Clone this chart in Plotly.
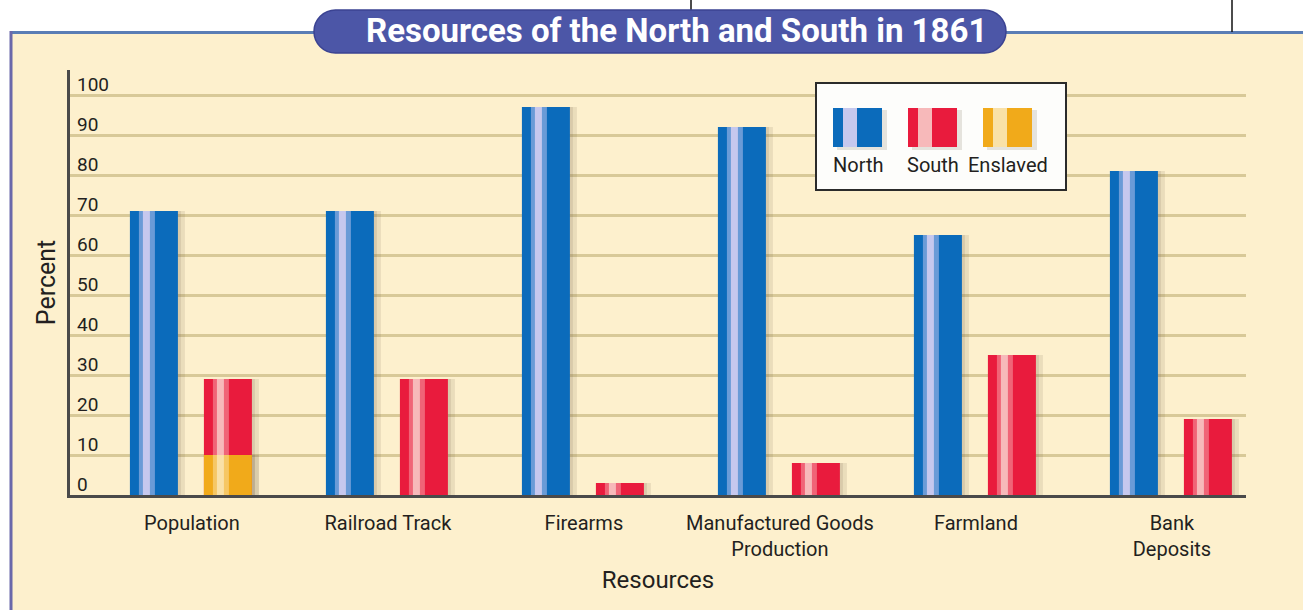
import plotly.graph_objects as go

# ---------------- data ----------------
categories = ["Population", "Railroad Track", "Firearms",
              "Manufactured Goods<br>Production", "Farmland", "Bank<br>Deposits"]
north = [71, 71, 97, 92, 65, 81]
south = [29, 29, 3, 8, 35, 19]
enslaved = [10, None, None, None, None, None]
y_ticks = [0, 10, 20, 30, 40, 50, 60, 70, 80, 90, 100]
legend_labels = ["North", "South", "Enslaved"]

# ---------------- geometry helpers ----------------
W, H = 1303, 610
L, R, T, B = 70, 1246, 70, 495       # plot area in pixels
CAT_PX = 196.0                         # one category in pixels
FONT = "Roboto, Open Sans, sans-serif"
TXT = "#231f20"


def px(x):
    return (x - L) / (R - L)


def py(y):
    return (B - y) / (B - T)


def u(p):
    return p / CAT_PX


fig = go.Figure()

BAR_W = u(48)
series = [
    # values, left offset px, base colour, soft stripe, core stripe
    (north, -62, "#0b6bbb", "rgba(185,195,238,0.55)", "#c6c8ee"),
    (south, 12, "#e91b3d", "rgba(246,160,168,0.55)", "#f7b9ba"),
    (enslaved, 12, "#f1aa1a", "rgba(250,218,150,0.6)", "#f9e1a8"),
]

for vals, off, base, soft, core in series:
    # soft shadow on the right
    fig.add_trace(go.Bar(x=categories, y=vals, offset=u(off + 7), width=BAR_W,
                         marker=dict(color="rgba(110,95,70,0.13)", line=dict(width=0)),
                         hoverinfo="skip", showlegend=False))
    fig.add_trace(go.Bar(x=categories, y=vals, offset=u(off + 3), width=BAR_W,
                         marker=dict(color="rgba(110,95,70,0.14)", line=dict(width=0)),
                         hoverinfo="skip", showlegend=False))
    fig.add_trace(go.Bar(x=categories, y=vals, offset=u(off), width=BAR_W,
                         marker=dict(color=base, line=dict(width=0)),
                         showlegend=False))
    fig.add_trace(go.Bar(x=categories, y=vals, offset=u(off + 9), width=u(16),
                         marker=dict(color=soft, line=dict(width=0)),
                         hoverinfo="skip", showlegend=False))
    fig.add_trace(go.Bar(x=categories, y=vals, offset=u(off + 13), width=u(7),
                         marker=dict(color=core, line=dict(width=0)),
                         hoverinfo="skip", showlegend=False))

shapes = []
# cream frame
shapes.append(dict(type="rect", xref="paper", yref="paper", layer="below",
                   x0=px(10), x1=px(W + 5), y0=py(32), y1=py(H + 5),
                   fillcolor="#fdf0cd", line=dict(width=0)))
shapes.append(dict(type="line", xref="paper", yref="paper", layer="above",
                   x0=px(10), x1=px(W + 5), y0=py(32.5), y1=py(32.5),
                   line=dict(color="#5a7db5", width=3)))
shapes.append(dict(type="line", xref="paper", yref="paper", layer="above",
                   x0=px(11), x1=px(11), y0=py(31), y1=py(H + 5),
                   line=dict(color="#6a68aa", width=3)))
# black marks at the very top
shapes.append(dict(type="line", xref="paper", yref="paper", layer="above",
                   x0=px(691), x1=px(691), y0=py(0), y1=py(12),
                   line=dict(color="#111111", width=1.5)))
shapes.append(dict(type="line", xref="paper", yref="paper", layer="above",
                   x0=px(1232), x1=px(1232), y0=py(0), y1=py(32),
                   line=dict(color="#111111", width=1.5)))

# title pill
x0p, x1p, y0p, y1p = 314, 1006, 10, 53
r = (y1p - y0p) / 2
k = 0.5523 * r
ym = (y0p + y1p) / 2


def P(x, y):
    return f"{px(x):.5f},{py(y):.5f}"


path = (f"M {P(x0p + r, y0p)} L {P(x1p - r, y0p)} "
        f"C {P(x1p - r + k, y0p)} {P(x1p, ym - k)} {P(x1p, ym)} "
        f"C {P(x1p, ym + k)} {P(x1p - r + k, y1p)} {P(x1p - r, y1p)} "
        f"L {P(x0p + r, y1p)} "
        f"C {P(x0p + r - k, y1p)} {P(x0p, ym + k)} {P(x0p, ym)} "
        f"C {P(x0p, ym - k)} {P(x0p + r - k, y0p)} {P(x0p + r, y0p)} Z")
shapes.append(dict(type="path", xref="paper", yref="paper", layer="above",
                   path=path, fillcolor="#4c56a7",
                   line=dict(color="#3b4392", width=1.5)))

# legend box
shapes.append(dict(type="rect", xref="paper", yref="paper", layer="above",
                   x0=px(816), x1=px(1066), y0=py(83), y1=py(190),
                   fillcolor="#fdfdfb", line=dict(color="#2b2b2b", width=2)))
legend_sw = [
    (833, "#0b6bbb", "#c6c8ee"),
    (908, "#e91b3d", "#f7b9ba"),
    (983, "#f1aa1a", "#f9e1a8"),
]
annotations = []
for (lx, base, core), lab in zip(legend_sw, legend_labels):
    shapes.append(dict(type="rect", xref="paper", yref="paper", layer="above",
                       x0=px(lx + 4), x1=px(lx + 54), y0=py(110), y1=py(150),
                       fillcolor="rgba(120,110,90,0.18)", line=dict(width=0)))
    shapes.append(dict(type="rect", xref="paper", yref="paper", layer="above",
                       x0=px(lx), x1=px(lx + 49), y0=py(108), y1=py(147),
                       fillcolor=base, line=dict(width=0)))
    shapes.append(dict(type="rect", xref="paper", yref="paper", layer="above",
                       x0=px(lx + 10), x1=px(lx + 24), y0=py(108), y1=py(147),
                       fillcolor=core, line=dict(width=0)))
    annotations.append(dict(text=lab, xref="paper", yref="paper",
                            x=px(lx + 25), y=py(165), showarrow=False,
                            xanchor="center", yanchor="middle",
                            font=dict(family=FONT, size=20, color=TXT)))

# y tick labels sitting just above each gridline, inside the plot
for v in y_ticks:
    annotations.append(dict(text=str(v), xref="paper", yref="y",
                            x=px(75), y=v, showarrow=False,
                            xanchor="left", yanchor="bottom", yshift=-3,
                            font=dict(family=FONT, size=19, color=TXT)))

annotations.append(dict(text="<b>Resources of the North and South in 1861</b>",
                        xref="paper", yref="paper", x=px(676), y=py(31),
                        showarrow=False, xanchor="center", yanchor="middle",
                        font=dict(family=FONT, size=33, color="white")))

fig.update_layout(
    width=W, height=H,
    margin=dict(l=L, r=W - R, t=T, b=H - B, pad=0),
    paper_bgcolor="white", plot_bgcolor="rgba(0,0,0,0)",
    barmode="overlay", showlegend=False,
    font=dict(family=FONT, color=TXT),
    shapes=shapes, annotations=annotations,
    xaxis=dict(range=[-0.622, 5.378], showgrid=False, showline=True,
               linecolor="#4a4a4a", linewidth=2.5, ticks="",
               tickfont=dict(size=20, color=TXT), ticklabelstandoff=8,
               title=dict(text="Resources", font=dict(size=24, color=TXT), standoff=12),
               fixedrange=True),
    yaxis=dict(range=[0, 106.25], tickvals=y_ticks, showgrid=True,
               gridcolor="#d8c998", gridwidth=3, zeroline=False,
               showline=True, linecolor="#4a4a4a", linewidth=2.5, ticks="",
               showticklabels=False,
               title=dict(text="Percent", font=dict(size=25, color=TXT), standoff=5),
               fixedrange=True),
)

fig.write_html("out.html", post_script="document.body.style.margin='0px';",
               config={"displayModeBar": False})
